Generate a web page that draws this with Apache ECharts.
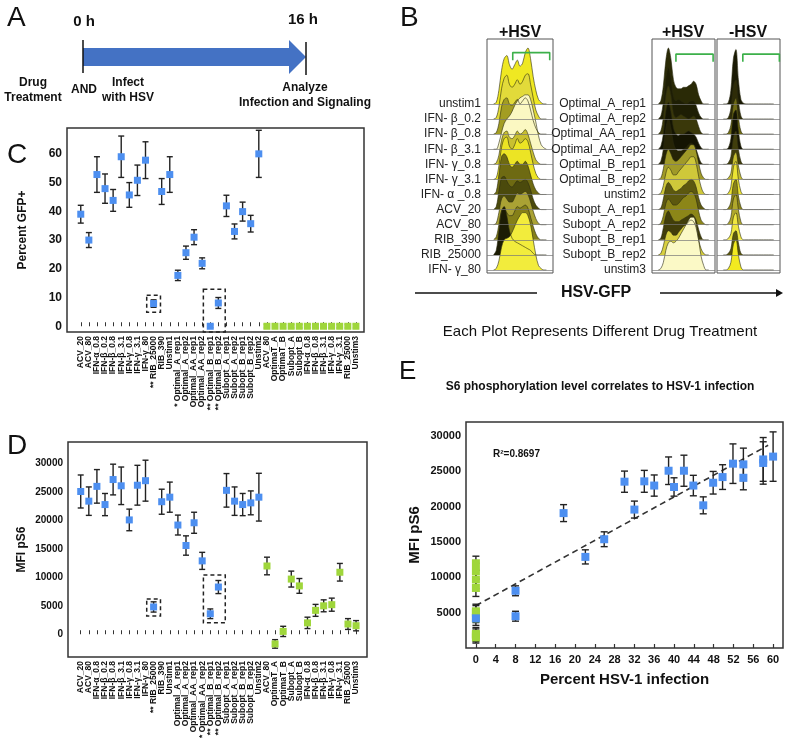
<!DOCTYPE html>
<html><head><meta charset="utf-8">
<script src="https://cdn.jsdelivr.net/npm/echarts@6/dist/echarts.min.js"></script>
<style>html,body{margin:0;padding:0;background:#fff}#c{width:787px;height:752px}</style>
</head><body><div id="c"></div>
<script>
const FONT = 'Liberation Sans, Arial, sans-serif';

// ---------- Panel C / D categories ----------
const catsC = ['ACV_20','ACV_80','IFN-α_0.8','IFN-β_0.2','IFN-β_0.8','IFN-β_3.1','IFN-γ_0.8','IFN-γ_3.1','IFN-γ_80','** RIB_25000','RIB_390','Unstim1','* Optimal_A_rep1','Optimal_A_rep2','Optimal_AA_rep1','Optimal_AA_rep2','** Optimal_B_rep1','** Optimal_B_rep2','Subopt_A_rep1','Subopt_A_rep2','Subopt_B_rep1','Subopt_B_rep2','Unstim2','ACV_80','OptimaT_A','OptimaT_B','Subopt_A','Subopt_B','IFN-α_0.8','IFN-β_0.8','IFN-β_3.1','IFN-γ_0.8','IFN-γ_3.1','RIB_25000','Unstim3'];
const catsD = ['ACV_20','ACV_80','IFN-α_0.8','IFN-β_0.2','IFN-β_0.8','IFN-β_3.1','IFN-γ_0.8','IFN-γ_3.1','IFN-γ_80','** RIB_25000','RIB_390','Unstim1','Optimal_A_rep1','Optimal_A_rep2','Optimal_AA_rep1','* Optimal_AA_rep2','** Optimal_B_rep1','** Optimal_B_rep2','Subopt_A_rep1','Subopt_A_rep2','Subopt_B_rep1','Subopt_B_rep2','Unstim2','ACV_80','OptimaT_A','OptimaT_B','Subopt_A','Subopt_B','IFN-α_0.8','IFN-β_0.8','IFN-β_3.1','IFN-γ_0.8','IFN-γ_3.1','RIB_25000','Unstim3'];
const infectedCount = 23; // first 23 samples infected (blue), rest uninfected (green)

// Panel C: Percent GFP+
const gfpMean = [39,30,52.8,47.9,43.8,59,45.7,50.8,57.8,7.9,46.9,52.8,17.7,25.6,31,21.9,0,8.1,41.9,33,39.9,35.7,60, 0,0,0,0,0,0,0,0,0,0,0,0];
const gfpErr  = [3.1,2.6,6.2,5.1,3.8,7.2,4.3,5.3,6.4,1.3,4.5,6.2,1.8,2.3,2.6,1.9,0.5,1.9,3.7,2.6,3.3,2.9,8.2, 0.6,0.6,0.6,0.6,0.6,0.6,0.6,0.6,0.6,0.6,0.6,0.6];
const gfpTicks = [0,10,20,30,40,50,60];
const boxesC = [[9,9,4.9,10.8],[16,17,-2,12.9]];

// Panel D: MFI pS6
const pS6Mean = [25100,23400,26000,22800,27200,26100,20100,26200,27000,4800,23300,24100,19200,15600,19600,12900,3600,8300,25300,23400,22800,23100,24100, 12000,-1700,500,9700,8500,2000,4200,5000,5200,10900,1800,1500];
const pS6Err  = [2900,2500,2950,1950,2700,3300,1900,3500,3600,900,2200,2650,1750,1700,1850,1500,850,1150,2950,2500,1950,2100,4200, 1550,750,900,1400,1300,1000,1050,1050,1150,1550,950,900];
const pS6Ticks = [0,5000,10000,15000,20000,25000,30000];
const boxesD = [[9,9,3200,6200],[16,17,2000,10400]];

// Panel E: correlation
const eBlueX   = [8,8,17.7,22.1,25.9,30,32,34,36,38.9,40,42,43.9,45.9,47.9,49.8,51.9,54,54,58,58,60,0];
const eBlueY   = [8100,4500,19100,12900,15400,23550,19600,23600,23000,25100,22800,25100,23000,20200,23400,24200,26100,26000,24100,26200,26700,27100,4200];
const eBlueErr = [700,700,1200,1000,1050,1500,1200,1550,1500,1950,1300,2200,1450,1200,1600,1750,2800,2300,1700,3000,3100,3500,600];
const eGreenY   = [12000,10900,9700,8500,5200,5000,4200,2000,1800,1500];
const eGreenErr = [1000,1100,1300,1200,1000,1000,1000,900,900,800];
const trendX = [0,59];
const trendY = [6000,28700];
const eXTicks = [0,4,8,12,16,20,24,28,32,36,40,44,48,52,56,60];
const eYTicks = [5000,10000,15000,20000,25000,30000];

// Panel B: histograms (HSV-GFP bins, counts in row units)
const bLeftLabels  = ['unstim1','IFN- β_0.2','IFN- β_0.8','IFN- β_3.1','IFN- γ_0.8','IFN- γ_3.1','IFN- α _0.8','ACV_20','ACV_80','RIB_390','RIB_25000','IFN- γ_80'];
const bRightLabels = ['Optimal_A_rep1','Optimal_A_rep2','Optimal_AA_rep1','Optimal_AA_rep2','Optimal_B_rep1','Optimal_B_rep2','unstim2','Subopt_A_rep1','Subopt_A_rep2','Subopt_B_rep1','Subopt_B_rep2','unstim3'];
const binsX = [10,14,18,22,26,30,34,38,42,46,50,54,58,62,66,70,74,78,82,86,90];
const histLeft = [
 [0,0.1,0.9,2.2,3.0,3.2,2.6,2.3,2.6,2.9,2.5,2.7,3.4,3.7,3.0,1.8,0.9,0.3,0.1,0,0],
 [0,0.1,0.8,2.0,2.7,2.9,2.3,2.1,2.3,2.6,2.3,2.5,2.9,3.0,2.3,1.4,0.6,0.2,0,0,0],
 [0,0.1,0.7,1.8,2.3,2.4,2.0,1.9,2.1,2.3,2.0,2.2,2.4,2.2,1.6,0.9,0.4,0.1,0,0,0],
 [0,0,0.4,1.1,1.7,2.0,2.2,2.5,2.9,3.2,3.4,3.5,3.6,3.6,3.3,2.6,1.8,0.9,0.3,0.1,0],
 [0,0.1,0.6,1.6,2.1,2.2,1.8,1.7,1.9,2.2,2.0,2.1,2.3,2.0,1.4,0.8,0.3,0.1,0,0,0],
 [0,0.1,0.9,2.1,2.7,2.8,2.2,2.0,2.3,2.7,2.4,2.5,2.7,2.5,1.8,1.0,0.4,0.1,0,0,0],
 [0,0.2,1.3,2.5,2.7,2.5,2.0,1.8,2.0,2.2,2.0,2.0,2.2,1.9,1.3,0.7,0.3,0.1,0,0,0],
 [0,0.2,1.2,2.1,2.2,1.9,1.6,1.5,1.7,1.9,1.8,1.9,2.0,1.8,1.3,0.7,0.3,0.1,0,0,0],
 [0,0.1,0.8,1.7,1.9,1.7,1.5,1.5,1.8,2.1,2.0,2.1,2.2,2.0,1.5,0.9,0.4,0.1,0,0,0],
 [0,0.2,1.0,1.9,2.0,1.8,1.6,1.6,1.9,2.2,2.1,2.2,2.3,2.1,1.5,0.9,0.4,0.1,0,0,0],
 [0,0.3,1.6,2.9,3.2,2.6,1.6,1.1,0.9,0.8,0.7,0.6,0.5,0.4,0.3,0.1,0,0,0,0,0],
 [0,0.1,0.6,1.5,2.0,2.1,2.2,2.5,2.9,3.3,3.6,3.8,3.8,3.6,3.0,2.0,1.0,0.3,0.1,0,0]
];
const histRight = [
 [0,0.2,1.2,2.9,3.7,3.0,1.6,1.1,1.0,1.0,1.1,1.1,1.2,1.3,1.5,1.3,0.6,0.2,0,0,0],
 [0,0.2,1.1,2.7,3.4,2.7,1.5,1.2,1.3,1.2,1.1,1.0,1.1,1.2,1.2,0.9,0.4,0.1,0,0,0],
 [0,0.2,1.1,2.6,3.2,2.6,1.4,1.1,1.2,1.3,1.2,1.1,1.0,1.1,1.2,1.0,0.5,0.1,0,0,0],
 [0,0.2,1.0,2.5,3.1,2.5,1.4,1.0,0.9,1.0,1.0,1.1,1.2,1.1,1.0,0.8,0.4,0.1,0,0,0],
 [0,0.2,1.0,2.4,3.0,2.4,1.4,1.0,0.9,0.9,1.0,1.1,1.3,1.4,1.3,1.0,0.5,0.1,0,0,0],
 [0,0.1,0.7,1.6,2.0,1.7,1.3,1.2,1.3,1.5,1.7,1.9,2.1,2.3,2.3,1.9,1.1,0.4,0.1,0,0],
 [0,0.1,0.6,1.4,1.8,1.6,1.3,1.3,1.5,1.7,1.9,2.1,2.3,2.5,2.5,2.1,1.2,0.5,0.1,0,0],
 [0,0.1,0.7,1.5,1.8,1.6,1.3,1.2,1.3,1.4,1.6,1.7,1.9,2.0,1.9,1.5,0.8,0.3,0.1,0,0],
 [0,0.1,0.6,1.4,1.7,1.5,1.3,1.3,1.4,1.6,1.8,1.9,2.1,2.2,2.1,1.7,0.9,0.3,0.1,0,0],
 [0,0.1,0.8,1.6,1.9,1.6,1.3,1.2,1.2,1.3,1.4,1.5,1.6,1.7,1.6,1.3,0.7,0.2,0,0,0],
 [0,0.1,0.6,1.3,1.6,1.5,1.3,1.3,1.5,1.7,1.9,2.0,2.2,2.3,2.2,1.8,1.0,0.4,0.1,0,0],
 [0,0.1,0.5,1.3,1.8,1.9,1.8,1.9,2.1,2.4,2.7,3.0,3.3,3.5,3.5,3.0,2.0,0.9,0.3,0,0]
];
const histNeg = [
 [0,0,0.1,0.9,3.0,3.6,1.6,0.3,0.05,0,0,0,0,0,0,0,0,0,0,0,0],
 [0,0,0.1,0.7,2.2,2.6,1.2,0.2,0,0,0,0,0,0,0,0,0,0,0,0,0],
 [0,0,0.1,0.6,2.0,2.4,1.1,0.2,0,0,0,0,0,0,0,0,0,0,0,0,0],
 [0,0,0.1,0.7,2.3,2.6,1.2,0.2,0,0,0,0,0,0,0,0,0,0,0,0,0],
 [0,0,0.1,0.5,1.8,2.2,1.0,0.2,0,0,0,0,0,0,0,0,0,0,0,0,0],
 [0,0,0.1,0.4,1.5,1.8,0.9,0.2,0,0,0,0,0,0,0,0,0,0,0,0,0],
 [0,0,0.1,0.5,1.8,2.2,1.0,0.2,0,0,0,0,0,0,0,0,0,0,0,0,0],
 [0,0,0.1,0.5,1.7,2.0,0.9,0.2,0,0,0,0,0,0,0,0,0,0,0,0,0],
 [0,0,0.1,0.5,1.7,2.0,1.0,0.2,0,0,0,0,0,0,0,0,0,0,0,0,0],
 [0,0,0.1,0.4,1.5,1.8,0.9,0.2,0,0,0,0,0,0,0,0,0,0,0,0,0],
 [0,0,0.1,0.4,1.4,1.6,0.8,0.1,0,0,0,0,0,0,0,0,0,0,0,0,0],
 [0,0,0.1,0.5,1.7,2.0,1.0,0.2,0,0,0,0,0,0,0,0,0,0,0,0,0]
];
const gateLeft  = [[39,13.9],[39,14.4],[95,14.4],[95,13.9]];
const gateRight = [[38,13.8],[38,14.3],[97,14.3],[97,13.8]];
const gateNeg   = [[41,13.8],[41,14.3],[99,14.3],[99,13.8]];

// ---------- styles ----------
const BLUE = '#4d8ff0', GREEN = '#9fd63b', INK = '#222';
const colLeft  = ['#efe822','#e2da3a','#a39d22','#fbf8c2','#c9c030','#ece424','#6e6a12','#4b4a0c','#aaa234','#858018','#1c1c04','#f2ec3c'];
const colRight = ['#2a2a06','#1e1e04','#3a380a','#141402','#262406','#a09a28','#cfc83a','#5c580f','#8c8618','#413e0a','#d8d040','#fbf9c6'];
const colNeg   = ['#1a1a04','#2e2c08','#6e6a14','#141402','#403e0c','#c4bc30','#ece434','#8a8418','#b0a82c','#f0e840','#5a560e','#f2ea20'];

const chart = echarts.init(document.getElementById('c'));
const catIdx = catsC.map((_, i) => i);
const evenIdx = catIdx.filter(i => i % 2 === 0);
const oddIdx = catIdx.filter(i => i % 2 === 1);
const rowIdx = bLeftLabels.map((_, i) => i);
const plain = v => String(v);

function errSeries(xi, rows, cap) {
  return {
    type: 'custom', xAxisIndex: xi, yAxisIndex: xi, clip: true, silent: true,
    encode: { x: 0, y: 1 }, data: rows, z: 2,
    renderItem(params, api) {
      const x = api.value(0), y = api.value(1), e = api.value(2);
      const t = api.coord([x, y + e]), b = api.coord([x, y - e]);
      const st = { stroke: INK, lineWidth: 1.4 };
      return { type: 'group', children: [
        { type: 'line', shape: { x1: t[0], y1: t[1], x2: b[0], y2: b[1] }, style: st },
        { type: 'line', shape: { x1: t[0] - cap / 2, y1: t[1], x2: t[0] + cap / 2, y2: t[1] }, style: st },
        { type: 'line', shape: { x1: b[0] - cap / 2, y1: b[1], x2: b[0] + cap / 2, y2: b[1] }, style: st }
      ]};
    }
  };
}
function boxSeries(xi, boxes) {
  return {
    type: 'custom', xAxisIndex: xi, yAxisIndex: xi, silent: true, z: 1,
    encode: { x: [0, 1], y: [2, 3] }, data: boxes,
    renderItem(params, api) {
      const p0 = api.coord([api.value(0) - 0.85, api.value(3)]);
      const p1 = api.coord([api.value(1) + 0.85, api.value(2)]);
      return { type: 'rect', shape: { x: p0[0], y: p0[1], width: p1[0] - p0[0], height: p1[1] - p0[1] },
        style: { fill: 'none', stroke: INK, lineWidth: 1.5, lineDash: [4, 3] } };
    }
  };
}
function scat(xi, data, color, size) {
  return { type: 'scatter', xAxisIndex: xi, yAxisIndex: xi, symbol: 'rect', symbolSize: size,
    itemStyle: { color: color, opacity: 1 }, data: data, z: 3, silent: true };
}

const gridStyle = { show: true, borderColor: '#333', borderWidth: 1.5, backgroundColor: 'transparent' };
const grids = [
  Object.assign({ left: 67, top: 128, width: 297, height: 204 }, gridStyle),
  Object.assign({ left: 68, top: 442, width: 299, height: 215 }, gridStyle),
  Object.assign({ left: 466, top: 422, width: 317, height: 226 }, gridStyle),
  { left: 487, top: 39, width: 66, height: 234, show: true, borderColor: '#555', borderWidth: 1 },
  { left: 652, top: 39, width: 63, height: 234, show: true, borderColor: '#555', borderWidth: 1 },
  { left: 717, top: 39, width: 63, height: 234, show: true, borderColor: '#555', borderWidth: 1 }
];

// category labels split over two co-located axes (even / odd) so none are dropped
function catXAxis(gi, cats, min, max, labelIdx, withTicks) {
  return { type: 'value', gridIndex: gi, min: min, max: max, position: 'bottom', offset: 0,
    axisLine: { show: false }, splitLine: { show: false },
    axisTick: { show: withTicks, inside: true, length: 4, customValues: catIdx, lineStyle: { color: '#333', width: 1 } },
    axisLabel: { customValues: labelIdx, rotate: 90, margin: 4, fontSize: 8.5, fontWeight: 'bold', fontFamily: FONT, color: '#111',
      showMinLabel: true, showMaxLabel: true, hideOverlap: false,
      formatter: v => cats[Math.round(v)] } };
}
function valYAxis(gi, min, max, ticks, name, fs, nameFs, gap) {
  return { type: 'value', gridIndex: gi, min: min, max: max,
    axisLine: { show: false }, splitLine: { show: false }, axisTick: { show: false },
    axisLabel: { customValues: ticks, fontSize: fs, fontWeight: 'bold', fontFamily: FONT, color: '#111', margin: 5,
      showMinLabel: true, showMaxLabel: true, formatter: plain },
    name: name, nameLocation: 'middle', nameGap: gap,
    nameTextStyle: { fontSize: nameFs, fontWeight: 'bold', fontFamily: FONT, color: '#111' } };
}
function bXAxis(gi) {
  return { type: 'value', gridIndex: gi, min: 0, max: 100, axisLine: { show: false }, splitLine: { show: false },
    axisTick: { show: false }, axisLabel: { show: false } };
}
function bYAxis(gi, labels) {
  return { type: 'value', gridIndex: gi, min: -0.2, max: 15.3, axisLine: { show: false }, splitLine: { show: false },
    axisTick: { show: false },
    axisLabel: labels ? { customValues: rowIdx, margin: 6, fontSize: 12, fontFamily: FONT, color: '#222',
      showMinLabel: true, showMaxLabel: true,
      padding: [0, 0, 8, 0], formatter: v => labels[11 - Math.round(v)] } : { show: false } };
}

const series = [];
// C
series.push(boxSeries(0, boxesC));
series.push(errSeries(0, gfpMean.map((m, i) => [i, m, gfpErr[i]]), 6));
series.push(scat(0, gfpMean.slice(0, infectedCount).map((m, i) => [i, m]), BLUE, 7));
series.push(scat(0, gfpMean.slice(infectedCount).map((m, i) => [i + infectedCount, m]), GREEN, 7));
// D
series.push(boxSeries(1, boxesD));
series.push(errSeries(1, pS6Mean.map((m, i) => [i, m, pS6Err[i]]), 6));
series.push(scat(1, pS6Mean.slice(0, infectedCount).map((m, i) => [i, m]), BLUE, 7));
series.push(scat(1, pS6Mean.slice(infectedCount).map((m, i) => [i + infectedCount, m]), GREEN, 7));
// E
series.push({ type: 'line', xAxisIndex: 2, yAxisIndex: 2, data: trendX.map((x, i) => [x, trendY[i]]), symbol: 'none',
  lineStyle: { color: '#333', width: 1.6, type: [6, 4] }, z: 1, silent: true });
series.push(errSeries(2, eGreenY.map((y, i) => [0, y, eGreenErr[i]]), 7));
series.push(scat(2, eGreenY.map(y => [0, y]), GREEN, 8));
series.push(errSeries(2, eBlueX.map((x, i) => [x, eBlueY[i], eBlueErr[i]]), 7));
series.push(scat(2, eBlueX.map((x, i) => [x, eBlueY[i]]), BLUE, 8));
// B histograms
function histSeries(gi, hists, colors, gate) {
  hists.forEach((h, r) => {
    const base = 11 - r;
    const s = { type: 'line', xAxisIndex: gi, yAxisIndex: gi, symbol: 'none', smooth: 0.35, silent: true,
      data: binsX.map((x, j) => [x, base + h[j]]),
      lineStyle: { color: '#2a2a10', width: 0.6 },
      areaStyle: { color: colors[r], opacity: 1, origin: base } };
    if (r === hists.length - 1) {
      s.markLine = { silent: true, symbol: 'none', label: { show: false },
        lineStyle: { color: '#777', width: 0.7, type: 'solid' },
        data: rowIdx.map(v => ({ yAxis: v })) };
    }
    series.push(s);
  });
  series.push({ type: 'line', xAxisIndex: gi, yAxisIndex: gi, symbol: 'none', silent: true, data: gate,
    lineStyle: { color: '#3cb04a', width: 1.6 }, z: 5 });
}
histSeries(3, histLeft, colLeft, gateLeft);
histSeries(4, histRight, colRight, gateRight);
histSeries(5, histNeg, colNeg, gateNeg);

const T = (left, top, text, fs, weight, extra) => Object.assign({ type: 'text', left: left, top: top,
  style: { text: text, fontSize: fs, fontWeight: weight || 'normal', fontFamily: FONT, fill: '#111' } }, extra || {});
const CT = (cx, cy, text, fs, weight, lh) => ({ type: 'text', x: cx, y: cy,
  style: { text: text, fontSize: fs, fontWeight: weight || 'normal', fontFamily: FONT, fill: '#111',
    align: 'center', verticalAlign: 'middle', lineHeight: lh || fs * 1.2 } });

const graphic = [
  // panel letters
  T(7, 4, 'A', 28), T(400, 4, 'B', 28), T(7, 141, 'C', 28), T(7, 432, 'D', 28), T(399, 359, 'E', 26),
  // Panel A timeline
  CT(84, 22, '0 h', 15, 'bold'), CT(303, 20, '16 h', 15, 'bold'),
  { type: 'rect', shape: { x: 83, y: 48, width: 208, height: 18 }, style: { fill: '#4472c4' } },
  { type: 'polygon', shape: { points: [[289, 40], [306, 57], [289, 74]] }, style: { fill: '#4472c4' } },
  { type: 'line', shape: { x1: 83, y1: 40, x2: 83, y2: 73 }, style: { stroke: '#111', lineWidth: 1.5 } },
  { type: 'line', shape: { x1: 306, y1: 42, x2: 306, y2: 75 }, style: { stroke: '#111', lineWidth: 1.5 } },
  CT(33, 90, 'Drug\nTreatment', 12, 'bold', 15), CT(84, 90, 'AND', 12, 'bold'),
  CT(128, 90, 'Infect\nwith HSV', 12, 'bold', 15), CT(305, 95, 'Analyze\nInfection and Signaling', 12, 'bold', 15),
  // Panel B headers and axis
  CT(520, 33, '+HSV', 16, 'bold'), CT(683, 33, '+HSV', 16, 'bold'), CT(748, 33, '-HSV', 16, 'bold'),
  CT(596, 293, 'HSV-GFP', 16, 'bold'),
  { type: 'line', shape: { x1: 415, y1: 293, x2: 537, y2: 293 }, style: { stroke: '#111', lineWidth: 1.5 } },
  { type: 'line', shape: { x1: 660, y1: 293, x2: 778, y2: 293 }, style: { stroke: '#111', lineWidth: 1.5 } },
  { type: 'polygon', shape: { points: [[776, 289], [783, 293], [776, 297]] }, style: { fill: '#111' } },
  CT(600, 332, 'Each Plot Represents Different Drug Treatment', 15, 'normal'),
  // Panel E title and R2
  CT(600, 387, 'S6 phosphorylation level correlates to HSV-1 infection', 12, 'bold'),
  T(493, 449, 'R²=0.8697', 10, 'bold')
];

chart.setOption({
  animation: false,
  backgroundColor: '#fff',
  textStyle: { fontFamily: FONT },
  grid: grids,
  xAxis: [
    catXAxis(0, catsC, -1.7, 35, evenIdx, true),
    catXAxis(1, catsD, -1.57, 35.35, evenIdx, true),
    { type: 'value', gridIndex: 2, min: -2, max: 62, axisLine: { show: false }, splitLine: { show: false },
      axisTick: { show: true, inside: true, length: 4, customValues: eXTicks, lineStyle: { color: '#333', width: 1.2 } },
      axisLabel: { customValues: eXTicks, fontSize: 11, fontWeight: 'bold', fontFamily: FONT, color: '#111', margin: 6,
        showMinLabel: true, showMaxLabel: true, formatter: plain },
      name: 'Percent HSV-1 infection', nameLocation: 'middle', nameGap: 24,
      nameTextStyle: { fontSize: 15, fontWeight: 'bold', fontFamily: FONT, color: '#111', verticalAlign: 'top' } },
    bXAxis(3), bXAxis(4), bXAxis(5),
    catXAxis(0, catsC, -1.7, 35, oddIdx, false),
    catXAxis(1, catsD, -1.57, 35.35, oddIdx, false)
  ],
  yAxis: [
    valYAxis(0, -2, 69, gfpTicks, 'Percent GFP+', 12, 12, 38),
    valYAxis(1, -4000, 33800, pS6Ticks, 'MFI pS6', 10, 12, 40),
    valYAxis(2, 0, 32000, eYTicks, 'MFI pS6', 11, 15, 44),
    bYAxis(3, bLeftLabels), bYAxis(4, bRightLabels), bYAxis(5, null)
  ],
  series: series,
  graphic: graphic
});
</script>
</body></html>
